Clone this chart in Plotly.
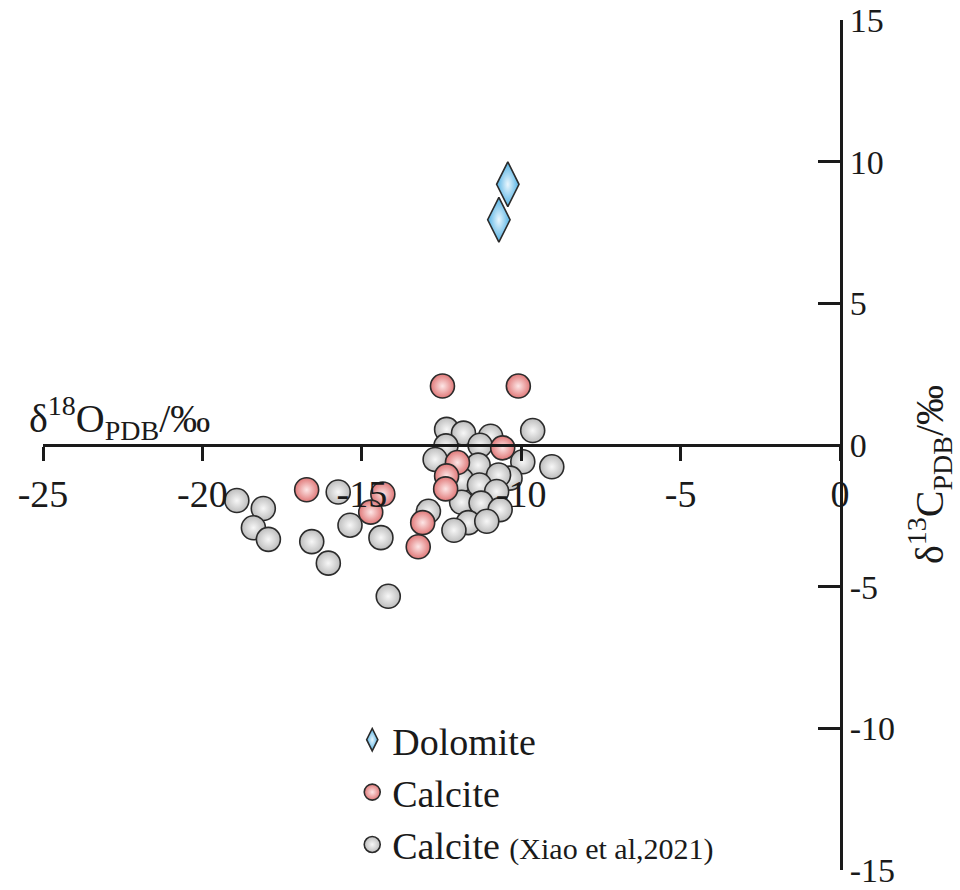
import plotly.graph_objects as go

# δ18O (x) and δ13C (y), ‰ PDB
dolomite_x = [-10.42, -10.70]
dolomite_y = [9.20, 7.95]

calcite_x = [-12.47, -10.09, -10.58, -12.00, -12.34, -12.37, -16.73, -14.34, -14.72, -13.09, -13.23]
calcite_y = [2.08, 2.08, -0.10, -0.62, -1.09, -1.55, -1.58, -1.73, -2.37, -2.74, -3.59]

xiao_x = [-12.34, -11.81, -10.96, -9.64, -12.36, -11.29, -12.70, -11.35, -9.95, -9.04,
          -10.35, -10.71, -11.87, -11.31, -10.77, -11.87, -11.26, -10.66, -11.66, -11.08,
          -12.11, -12.91, -18.92, -18.09, -18.40, -17.93, -15.74, -15.37, -16.57, -14.40,
          -16.05, -14.17]
xiao_y = [0.55, 0.42, 0.31, 0.51, -0.03, -0.01, -0.51, -0.71, -0.59, -0.77,
          -1.17, -1.06, -1.23, -1.41, -1.64, -2.02, -2.05, -2.28, -2.74, -2.69,
          -3.01, -2.34, -1.96, -2.24, -2.92, -3.33, -1.66, -2.83, -3.41, -3.27,
          -4.17, -5.34]

x_ticks = [-25, -20, -15, -10, -5, 0]
y_ticks = [15, 10, 5, 0, -5, -10, -15]

FONT = "Liberation Serif"
EDGE = "#2b2b2b"

fig = go.Figure()

fig.add_trace(go.Scatter(
    x=xiao_x, y=xiao_y, mode="markers",
    name="Calcite <span style='font-size:30px'>(Xiao et al,2021)</span>",
    legendrank=3,
    marker=dict(symbol="circle", size=24, color="#bdbdbd",
                gradient=dict(type="radial", color="#f7f7f7"),
                line=dict(color=EDGE, width=1.6)),
))
fig.add_trace(go.Scatter(
    x=calcite_x, y=calcite_y, mode="markers", name="Calcite",
    legendrank=2,
    marker=dict(symbol="circle", size=24, color="#e07878",
                gradient=dict(type="radial", color="#fde6e6"),
                line=dict(color=EDGE, width=1.6)),
))
fig.add_trace(go.Scatter(
    x=dolomite_x, y=dolomite_y, mode="markers", name="Dolomite",
    legendrank=1,
    marker=dict(symbol="diamond-tall", size=32, color="#4fb0e3",
                gradient=dict(type="radial", color="#eaf7fe"),
                line=dict(color=EDGE, width=1.6)),
))

fig.update_layout(
    width=960, height=890,
    margin=dict(l=43, r=120, t=20, b=20, autoexpand=False),
    paper_bgcolor="white", plot_bgcolor="white",
    font=dict(family=FONT, color="#1a1a1a"),
    showlegend=True,
    legend=dict(x=0.388, y=0.19, xanchor="left", yanchor="top",
                bgcolor="rgba(0,0,0,0)", font=dict(size=38, family=FONT),
                tracegroupgap=0),
    xaxis=dict(range=[-25, 0], anchor="free", position=0.5,
               showline=True, linewidth=3, linecolor="#1a1a1a",
               ticks="outside", ticklen=14, tickwidth=3, tickcolor="#1a1a1a",
               tickvals=x_ticks, ticktext=[str(v) for v in x_ticks],
               tickfont=dict(size=38, family=FONT), ticklabeloverflow="allow",
               showgrid=False, zeroline=False),
    yaxis=dict(range=[-15, 15], side="right", anchor="x",
               showline=True, linewidth=3, linecolor="#1a1a1a",
               ticks="inside", ticklen=22, tickwidth=3, tickcolor="#1a1a1a",
               tickvals=y_ticks, ticktext=[str(v) for v in y_ticks],
               tickfont=dict(size=34, family=FONT), ticklabeloverflow="allow",
               showgrid=False, zeroline=False),
    annotations=[
        dict(text="δ<sup>18</sup>O<sub>PDB</sub>/‰", xref="paper", yref="paper",
             x=-0.02, y=0.497, xanchor="left", yanchor="bottom", showarrow=False,
             font=dict(size=40, family=FONT, color="#1a1a1a")),
        dict(text="δ<sup>13</sup>C<sub>PDB</sub>/‰", xref="paper", yref="paper",
             x=1.112, y=0.465, xanchor="center", yanchor="middle", showarrow=False,
             textangle=-90, font=dict(size=40, family=FONT, color="#1a1a1a")),
    ],
)

fig.write_html("out.html")
